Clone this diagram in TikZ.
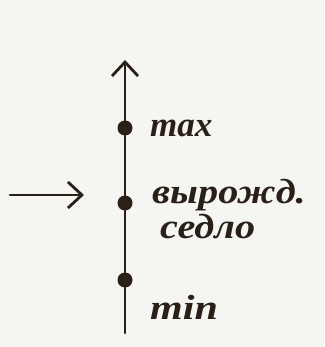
\documentclass[tikz,border=0pt]{standalone}
\usepackage{fontspec}
\setmainfont{Liberation Serif}
\usepackage{tikz}
\usetikzlibrary{arrows.meta,positioning}
\definecolor{sketchink}{HTML}{2A2018}
\definecolor{sketchpaper}{HTML}{F5F5F2}
\tikzset{
  inkline/.style={sketchink,line width=2.8pt,line cap=round},
  critdot/.style={circle,fill=sketchink,inner sep=0pt,minimum size=15pt},
  critlab/.style={anchor=west,sketchink,font=\bfseries\itshape\fontsize{35}{36}\selectfont,inner sep=0pt},
  barbtip/.style={-{Straight Barb[length=14pt,width=26pt,line width=2.8pt]}}
}
\begin{document}
\begin{tikzpicture}[x=1pt,y=1pt]
  \fill[sketchpaper] (0,0) rectangle (324,347);
  \useasboundingbox (0,0) rectangle (324,347);
  % axis of the function values
  \coordinate (axbot) at (125,14);
  \coordinate (axtop) at (125,287);
  \draw[inkline,barbtip] (axbot)--(axtop);
  \node[critdot] (pmax) at (125,219) {};
  \node[critdot] (psad) at (125,144) {};
  \node[critdot] (pmin) at (125,67) {};
  \node[critlab] (lmax) at (150,219) {max};
  \node[critlab,xscale=1.15,transform shape] (lsad) at (152,152) {вырожд.};
  \node[critlab,xscale=1.15,transform shape] (lsad2) at (160,120) {седло};
  \node[critlab,xscale=1.2,transform shape] (lmin) at (150,40) {min};
  % incoming arrow
  \coordinate (inleft) at (10,152);
  \coordinate (inright) at (84,152);
  \draw[inkline,barbtip] (inleft)--(inright);
\end{tikzpicture}
\end{document}
